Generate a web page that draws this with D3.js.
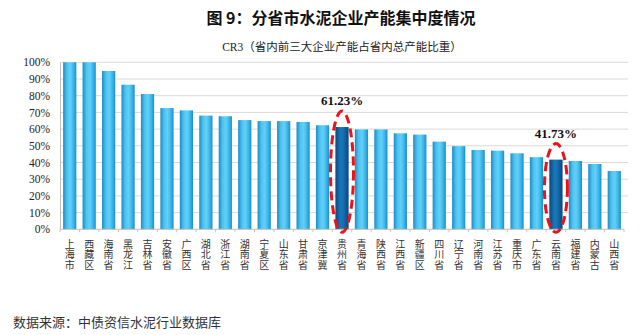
<!DOCTYPE html>
<html><head><meta charset="utf-8">
<script src="https://cdn.jsdelivr.net/npm/d3@7"></script>
<style>body{margin:0;background:#fff}svg{display:block}</style>
</head><body><svg id="c" width="640" height="335"></svg>
<script>
const categories = ["上海市","西藏区","海南省","黑龙江","吉林省","安徽省","广西区","湖北省","浙江省","湖南省","宁夏区","山东省","甘肃省","京津冀","贵州省","青海省","陕西省","江西省","新疆区","四川省","辽宁省","河南省","江苏省","重庆市","广东省","云南省","福建省","内蒙古","山西省"];
const values = [100,100,94.8,86.6,81.0,72.6,71.2,68.1,67.7,65.4,64.8,64.8,64.3,62.3,61.23,59.8,59.8,57.5,56.7,52.5,49.8,47.5,47.1,45.5,43.2,41.73,40.9,39.1,34.9];
const highlighted = ["贵州省","云南省"];
const annotations = [{cat:"贵州省",label:"61.23%"},{cat:"云南省",label:"41.73%"}];
const yTicks = [0,10,20,30,40,50,60,70,80,90,100];
const title = "图 9：分省市水泥企业产能集中度情况";
const subtitle = "CR3（省内前三大企业产能占省内总产能比重）";
const source = "数据来源：中债资信水泥行业数据库";

const svg = d3.select("#c");
const L=60, R=624, T=62.3, B=229.3;
const x = d3.scaleBand().domain(categories).range([L,R]).paddingInner(0.32).paddingOuter(0.16);
const y = d3.scaleLinear().domain([0,100]).range([B,T]);

const defs = svg.append("defs");
function grad(id, stops){
  const g = defs.append("linearGradient").attr("id",id).attr("x1","0").attr("x2","1").attr("y1","0").attr("y2","0");
  stops.forEach(s=>g.append("stop").attr("offset",s[0]).attr("stop-color",s[1]));
}
grad("gb",[["0%","#1A8DCB"],["30%","#4FC4F0"],["55%","#62D0F7"],["80%","#3AB3E6"],["100%","#1A8DCB"]]);
grad("gd",[["0%","#0A4680"],["40%","#1A78B8"],["60%","#1670B0"],["100%","#08457E"]]);

svg.append("text").attr("x",341).attr("y",24).attr("text-anchor","middle")
  .attr("font-family","'Noto Sans CJK SC'").attr("font-weight","bold").attr("font-size",16).attr("fill","#111").text(title);
svg.append("text").attr("x",342).attr("y",51).attr("text-anchor","middle")
  .attr("font-family","'Liberation Serif','Noto Sans CJK SC'").attr("font-size",11.5).attr("fill","#222").text(subtitle);

// grid
svg.append("g").selectAll("line").data(yTicks.filter(d=>d>0)).join("line")
  .attr("x1",L).attr("x2",628).attr("y1",d=>y(d)).attr("y2",d=>y(d))
  .attr("stroke","#D9D9D9").attr("stroke-width",1);

// y axis
const ya = svg.append("g").attr("transform",`translate(${L},0)`)
  .call(d3.axisLeft(y).tickValues(yTicks).tickFormat(d=>d+"%").tickSize(0).tickPadding(10));
ya.select(".domain").attr("stroke","#BFBFBF");
ya.selectAll("text").attr("font-family","'Liberation Serif'").attr("font-size",11.5).attr("fill","#222");

// bars
svg.append("g").selectAll("rect").data(categories).join("rect")
  .attr("x",d=>x(d)).attr("width",x.bandwidth())
  .attr("y",(d,i)=>y(values[i])).attr("height",(d,i)=>B-y(values[i]))
  .attr("fill",d=>highlighted.includes(d)?"url(#gd)":"url(#gb)");

// x axis
const xa = svg.append("g").attr("transform",`translate(0,${B})`);
xa.append("line").attr("x1",L).attr("x2",R).attr("stroke","#BFBFBF");
const step = x.step();
xa.selectAll("line.tk").data(d3.range(categories.length+1)).join("line").attr("class","tk")
  .attr("x1",i=>L+i*step).attr("x2",i=>L+i*step).attr("y1",0).attr("y2",3).attr("stroke","#E0C0B0");
const lbl = xa.selectAll("text").data(categories).join("text")
  .attr("font-family","'Noto Sans CJK SC'").attr("font-size",10).attr("fill","#333").attr("text-anchor","middle");
lbl.each(function(d){
  const t=d3.select(this); const cx=x(d)+x.bandwidth()/2;
  [...d].forEach((ch,k)=>t.append("tspan").attr("x",cx).attr("y",19+k*10.2).text(ch));
});

// annotations
annotations.forEach(a=>{
  const i = categories.indexOf(a.cat);
  const cx = x(a.cat)+x.bandwidth()/2;
  const top = y(values[i]);
  const ry = (B+3 - (top-16))/2;
  svg.append("ellipse").attr("cx",cx).attr("cy",(B+3+top-16)/2).attr("rx",11.5).attr("ry",ry)
    .attr("fill","none").attr("stroke","#E8141C").attr("stroke-width",3).attr("stroke-dasharray","9,5");
  svg.append("text").attr("x",cx).attr("y",top-22).attr("text-anchor","middle")
    .attr("font-family","'Liberation Serif'").attr("font-weight","bold").attr("font-size",13).attr("fill","#111").text(a.label);
});

svg.append("text").attr("x",13).attr("y",327).attr("font-family","'Noto Sans CJK SC'").attr("font-size",13).attr("fill","#333").text(source);
</script></body></html>
